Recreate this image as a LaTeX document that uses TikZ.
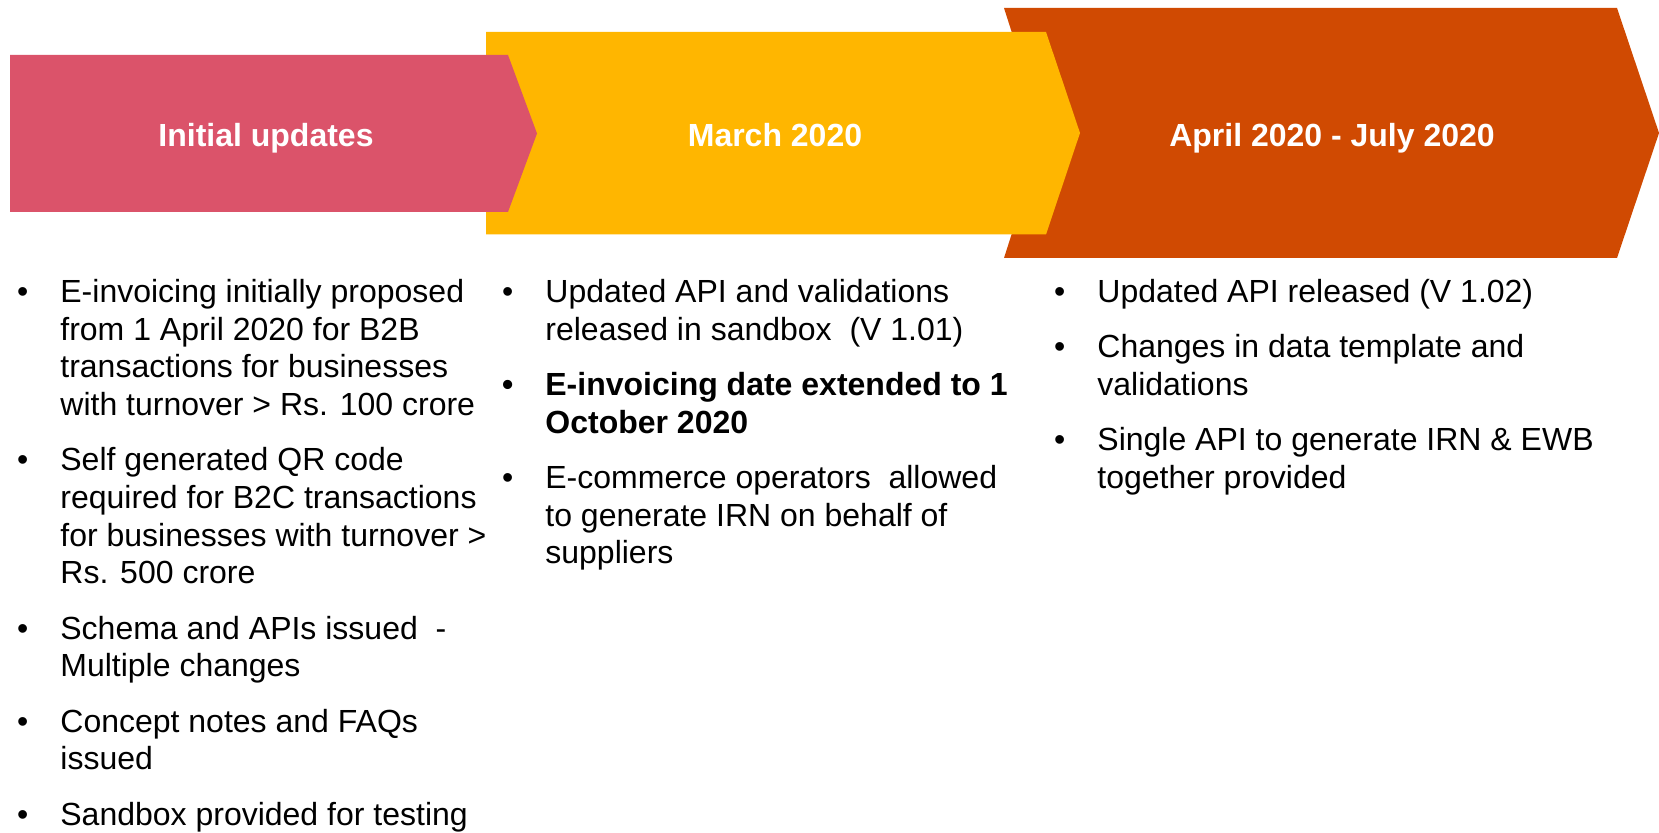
\documentclass[tikz,border=0pt]{standalone}
\usepackage{fontspec}
\setmainfont{Liberation Sans}
\usetikzlibrary{positioning}

\definecolor{rose}{HTML}{DB536A}
\definecolor{gold}{HTML}{FFB600}
\definecolor{rust}{HTML}{D04A02}

% hanging bullet for the first line of a point
\newcommand{\bul}{\llap{\textbullet\hspace{16pt}}\strut}

\begin{document}
\begin{tikzpicture}
[x=0.5pt,y=-0.5pt,
head/.style={anchor=base,inner sep=0pt,text=white,font=\bfseries\fontsize{16}{19}\selectfont},
item/.style={anchor=north west,inner sep=0pt,align=left,font=\fontsize{16}{18.85}\selectfont},
next/.style={below=8.4pt of #1.south west,anchor=north west}]
\useasboundingbox (0,0) rectangle (1659,833);
% phase arrows, back to front
\fill[rust] (1004,8) -- (1617,8) -- (1659,133) -- (1617,258) -- (1004,258) -- (1044,133) -- cycle;
\fill[gold] (486,32) -- (1046,32) -- (1080,133) -- (1046,234.5) -- (486,234.5) -- cycle;
\fill[rose] (10,55) -- (508,55) -- (537,133.5) -- (508,212) -- (10,212) -- cycle;
\node[head] (initial) at (266,147) {Initial updates};
\node[head] (march) at (775,147) {March 2020};
\node[head] (aprjul) at (1332,147) {April 2020 - July 2020};
% first column
\node[item] (init1) at (60,275.6) {\bul E-invoicing initially proposed\\from 1 April 2020 for B2B\\transactions for businesses\\with turnover > Rs. 100 crore\strut};
\node[item,next=init1] (init2) {\bul Self generated QR code\\required for B2C transactions\\for businesses with turnover >\\Rs. 500 crore\strut};
\node[item,next=init2] (init3) {\bul Schema and APIs issued\ \ -\\Multiple changes\strut};
\node[item,next=init3] (init4) {\bul Concept notes and FAQs\\issued\strut};
\node[item,next=init4] (init5) {\bul Sandbox provided for testing\strut};
% second column
\node[item] (mar1) at (545,275.6) {\bul Updated API and validations\\released in sandbox\ \ (V 1.01)\strut};
\node[item,next=mar1,font=\bfseries\fontsize{16}{18.85}\selectfont] (mar2) {\bul E-invoicing date extended to 1\\October 2020\strut};
\node[item,next=mar2] (mar3) {\bul E-commerce operators\ \ allowed\\to generate IRN on behalf of\\suppliers\strut};
% third column
\node[item] (apr1) at (1097,275.6) {\bul Updated API released (V 1.02)\strut};
\node[item,next=apr1] (apr2) {\bul Changes in data template and\\validations\strut};
\node[item,next=apr2] (apr3) {\bul Single API to generate IRN \& EWB\\together provided\strut};
\end{tikzpicture}
\end{document}
